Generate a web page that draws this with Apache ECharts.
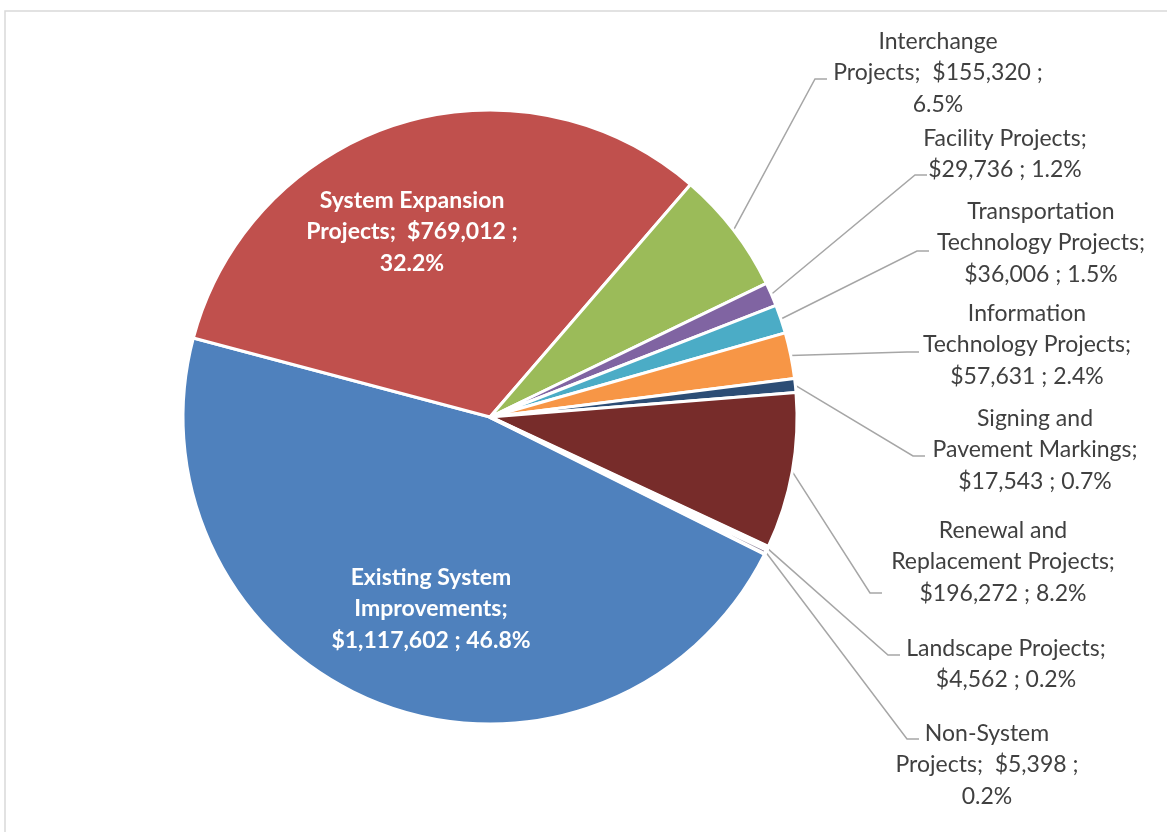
<!DOCTYPE html>
<html><head><meta charset="utf-8">
<script src="https://cdn.jsdelivr.net/npm/echarts@6/dist/echarts.min.js"></script>
<style>html,body{margin:0;padding:0;background:#fff}#c{width:1167px;height:832px}</style>
</head><body><div id="c"></div>
<script>
// ---- data ----
const categories = [
  'Existing System Improvements',
  'System Expansion Projects',
  'Interchange Projects',
  'Facility Projects',
  'Transportation Technology Projects',
  'Information Technology Projects',
  'Signing and Pavement Markings',
  'Renewal and Replacement Projects',
  'Landscape Projects',
  'Non-System Projects'
];
const values = [1117602, 769012, 155320, 29736, 36006, 57631, 17543, 196272, 4562, 5398];
// label text with line breaks as in the reference (%V = value, %P = percent)
const labelTemplates = [
  'Existing System\nImprovements;\n%V ; %P',
  'System Expansion\nProjects;  %V ;\n%P',
  'Interchange\nProjects;  %V ;\n%P',
  'Facility Projects;\n%V ; %P',
  'Transportation\nTechnology Projects;\n%V ; %P',
  'Information\nTechnology Projects;\n%V ; %P',
  'Signing and\nPavement Markings;\n%V ; %P',
  'Renewal and\nReplacement Projects;\n%V ; %P',
  'Landscape Projects;\n%V ; %P',
  'Non-System\nProjects;  %V ;\n%P'
];
const insideLabel = [true, true, false, false, false, false, false, false, false, false];

// ---- styling / layout (not data) ----
const colors = ['#4F81BD', '#C0504D', '#9BBB59', '#8064A2', '#4BACC6', '#F79646', '#2C4D75', '#772C2A', '#5F7530', '#4D3B62'];
const borderWidths = [3, 3, 3, 3, 3, 3, 3, 3, 3.8, 3.8];
const labelCenters = [[431, 609], [412, 232], [938, 73], [1005, 154], [1041, 243], [1027, 345], [1035, 450], [1003, 562], [1006, 664], [987, 765]];
const leaderEnds = [null, null, [815, 79], [915, 175], [917, 251], [907, 352], [913, 456], [870, 593], [888, 655], [907, 739]];
const TAIL = 12;

const chart = echarts.init(document.getElementById('c'), null, {renderer: 'canvas'});

const seriesData = categories.map((name, i) => ({
  name: name,
  value: values[i],
  itemStyle: {color: colors[i], borderWidth: borderWidths[i]},
  label: insideLabel[i]
    ? {position: 'inside', color: '#ffffff', fontWeight: 'bold'}
    : {position: 'outside'},
  labelLine: {show: !insideLabel[i]}
}));

chart.setOption({
  animation: false,
  backgroundColor: '#ffffff',
  graphic: [{
    type: 'rect', z: -1, silent: true,
    shape: {x: 5, y: 11, width: 1400, height: 1000},
    style: {fill: 'none', stroke: '#d9d9d9', lineWidth: 1.5}
  }],
  series: [{
    type: 'pie',
    center: [490, 417],
    radius: [0, 307],
    startAngle: 333.5,
    clockwise: true,
    avoidLabelOverlap: false,
    emphasis: {disabled: true},
    itemStyle: {borderColor: '#ffffff', borderWidth: 3},
    label: {
      show: true,
      fontFamily: 'Lato',
      fontSize: 23,
      lineHeight: 31.5,
      color: '#404040',
      align: 'center',
      formatter: function (p) {
        const v = '$' + p.value.toLocaleString('en-US');
        const pc = p.percent.toFixed(1) + '%';
        return labelTemplates[p.dataIndex].replace('%V', v).replace('%P', pc);
      }
    },
    labelLine: {
      show: true,
      smooth: false,
      lineStyle: {color: '#a6a6a6', width: 1.5}
    },
    labelLayout: function (params) {
      const i = params.dataIndex;
      const c = labelCenters[i];
      const out = {x: c[0], y: c[1], align: 'center', verticalAlign: 'middle'};
      const e = leaderEnds[i];
      if (e && params.labelLinePoints) {
        const s = params.labelLinePoints[0];
        out.labelLinePoints = [[s[0], s[1]], [e[0], e[1]], [e[0] + TAIL, e[1]]];
      }
      return out;
    },
    data: seriesData
  }]
});
</script>
</body></html>
